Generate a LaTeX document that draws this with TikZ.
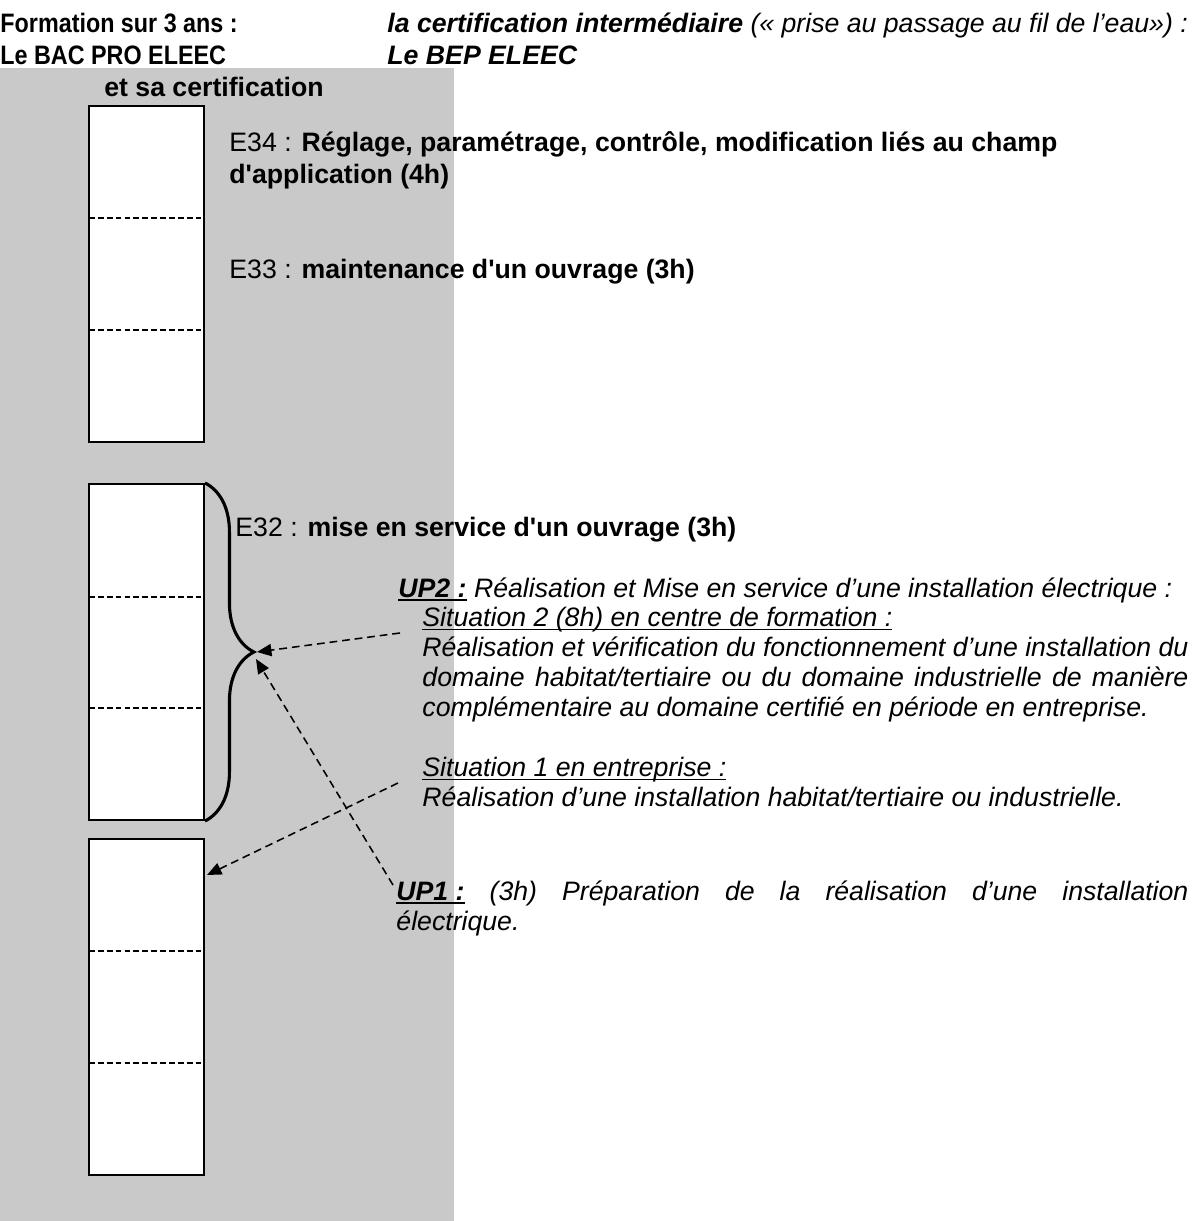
\documentclass[tikz,border=0pt]{standalone}
\usepackage{fontspec}
\setmainfont{Liberation Sans}[Ligatures=TeXOff]
\usetikzlibrary{arrows.meta,decorations.pathreplacing}

\newlength\pxu
\setlength\pxu{0.45pt}
% underline sitting just under the baseline
\newcommand\undl[2][0.6pt]{\setbox0=\hbox{#2}\rlap{\rule[-1.9pt]{\wd0}{#1}}\box0\relax}

\begin{document}
\begin{tikzpicture}[
  x=\pxu, y=-\pxu,
  lbl/.style={anchor=base west,inner sep=0pt,font=\fontsize{12}{14}\selectfont},
  hdrnarrow/.style={lbl,font=\fontsize{12}{14}\selectfont\bfseries},
  stackbox/.style={draw,line width=0.9pt,fill=white,inner sep=0pt,
                   minimum width=115\pxu,minimum height=336\pxu},
  sepline/.style={line width=0.5pt,dash pattern=on 2.6pt off 1.4pt},
  link/.style={line width=0.7pt,dash pattern=on 3.5pt off 2.2pt,
               -{Triangle[length=6.5pt,width=5.5pt]}},
  curly/.style={line width=1.4pt,decorate,decoration={brace,amplitude=22pt}},
]
\useasboundingbox (0,0) rectangle (1193,1221);

% grey background column
\fill[black!21] (0,68) rectangle (454,1221);

% Headers
\node[hdrnarrow] (hdrFormation) at (0,33) {\scalebox{0.875}[1]{Formation sur 3 ans :}};
\node[hdrnarrow] (hdrBac) at (0,65) {\scalebox{0.875}[1]{Le BAC PRO ELEEC}};
\node[lbl] (hdrCertif) at (387,33)
  {\textbf{\textit{la certification intermédiaire}} \textit{(« prise au passage au fil de l’eau») :}};
\node[lbl] (hdrBep) at (387,65) {\bfseries\itshape Le BEP ELEEC};
\node[lbl,anchor=base] (hdrSa) at (214,97) {\bfseries et sa certification};

% Stacks of three blocks
\node[stackbox] (boxA) at (146.5,274) {};
\node[stackbox] (boxB) at (146.5,652) {};
\node[stackbox] (boxC) at (146.5,1007) {};
\foreach \ya in {218,330,597,708,951,1063}
  \draw[sepline] (89,\ya) -- (204,\ya);

% Tests
\node[lbl] (e34) at (229,152)
  {E34 : \textbf{Réglage, paramétrage, contrôle, modification liés au champ}};
\node[lbl] (e34b) at (229,184) {\bfseries d'application (4h)};
\node[lbl] (e33) at (229,279) {E33 : \textbf{maintenance d'un ouvrage (3h)}};
\node[lbl] (e32) at (235,536) {E32 : \textbf{mise en service d'un ouvrage (3h)}};

% Brace on second stack
\draw[curly] (boxB.north east) -- (boxB.south east);
\coordinate (tipS2) at (257,652);
\coordinate (tipUP1) at (256,659);
\coordinate (tipS1) at (207,875);

% UP2
\node[lbl] (up2) at (398,597)
  {\itshape\undl[1.2pt]{\textbf{UP2 :}} Réalisation et Mise en service d’une installation électrique :};
\node[lbl] (sit2) at (422,626) {\itshape\undl{Situation 2 (8h) en centre de formation :}};
\node[lbl] (sit2a) at (422,656)
  {\itshape\makebox[766\pxu][s]{Réalisation et vérification du fonctionnement d’une installation du}};
\node[lbl] (sit2b) at (422,686)
  {\itshape\makebox[766\pxu][s]{domaine habitat/tertiaire ou du domaine industrielle de manière}};
\node[lbl] (sit2c) at (422,716)
  {\itshape complémentaire au domaine certifié en période en entreprise.};
\node[lbl] (sit1) at (422,776) {\itshape\undl{Situation 1 en entreprise :}};
\node[lbl] (sit1a) at (422,806)
  {\itshape Réalisation d’une installation habitat/tertiaire ou industrielle.};

% UP1
\node[lbl] (up1) at (396,900)
  {\itshape\makebox[792\pxu][s]{\undl[1.2pt]{\textbf{UP1 :}} (3h) Préparation de la réalisation d’une installation}};
\node[lbl] (up1b) at (396,930) {\itshape électrique.};

% Links
\coordinate (fromS2) at (400,633);
\coordinate (fromS1) at (398,783);
\coordinate (fromUP1) at (393,885);
\draw[link] (fromS2) -- (tipS2);
\draw[link] (fromUP1) -- (tipUP1);
\draw[link] (fromS1) -- (tipS1);

\end{tikzpicture}
\end{document}
